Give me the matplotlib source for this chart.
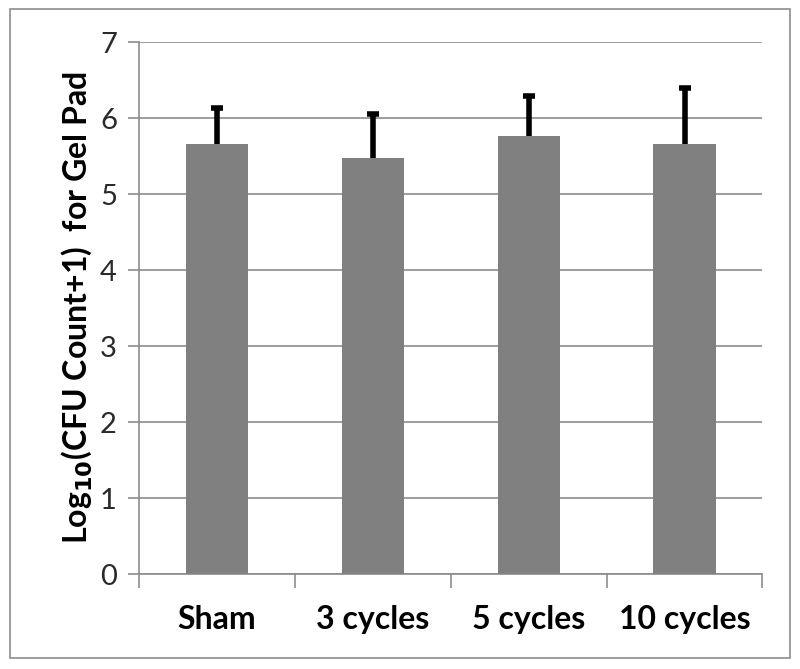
import numpy as np
import matplotlib.pyplot as plt

categories = ['Sham', '3 cycles', '5 cycles', '10 cycles']
means = [5.66, 5.47, 5.77, 5.66]
err_up = [0.47, 0.58, 0.52, 0.73]
yticks = [0, 1, 2, 3, 4, 5, 6, 7]

plt.rcParams['font.family'] = ['Lato', 'DejaVu Sans']

fig = plt.figure(figsize=(8, 6.69), dpi=100)
ax = fig.add_axes([0.174, 0.142, 0.779, 0.795])

x = np.arange(len(categories))
ax.bar(x, means, width=0.4, color='#808080', zorder=3)
eb = ax.errorbar(x, means, yerr=[np.zeros(len(means)), err_up], fmt='none',
                 ecolor='black', elinewidth=4, capsize=4, capthick=4, zorder=4)
# only the upper whisker gets a cap
eb[1][0].set_visible(False)

ax.set_xlim(-0.5, len(categories) - 0.5)
ax.set_ylim(0, 7)
ax.set_yticks(yticks)
ax.set_yticklabels([str(t) for t in yticks], fontsize=21, color='#2a2a2a')
ax.yaxis.grid(True, color='#8c8c8c', linewidth=1.2, zorder=0)

# category ticks sit between the bars
ax.set_xticks(x)
ax.set_xticklabels(categories, fontsize=23, fontweight='bold')
ax.set_xticks(np.arange(-0.5, len(categories)), minor=True)
ax.tick_params(axis='x', which='major', length=0, pad=22)
ax.tick_params(axis='x', which='minor', length=10, color='#8c8c8c', width=1.2)
ax.tick_params(axis='y', length=8, color='#8c8c8c', width=1.2, pad=8)

for s in ['top', 'right']:
    ax.spines[s].set_visible(False)
for s in ['left', 'bottom']:
    ax.spines[s].set_color('#8c8c8c')
    ax.spines[s].set_linewidth(1.2)

ax.set_ylabel('Log$_{\\mathbf{10}}$(CFU Count+1)  for Gel Pad', fontsize=23,
              fontweight='bold', labelpad=4)

# outer frame around the whole chart
fig.patches.append(plt.Rectangle((0.0125, 0.017), 0.975, 0.97, transform=fig.transFigure,
                                 fill=False, edgecolor='#8c8c8c', linewidth=1.2))

fig.savefig('out.png', dpi=100)
